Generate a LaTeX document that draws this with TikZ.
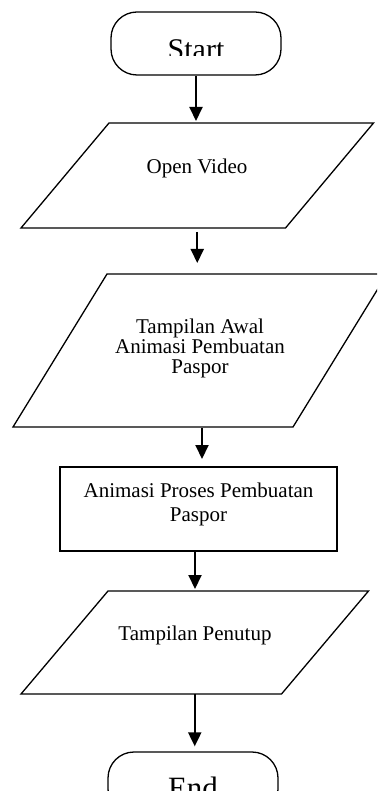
\documentclass[tikz,border=0pt]{standalone}
\usepackage{fontspec}
\setmainfont{Liberation Serif}
\usetikzlibrary{arrows.meta,calc}
\tikzset{
  term/.style={draw, line width=1.3pt, rounded corners=26pt, minimum width=170pt, minimum height=63pt, inner sep=0pt},
  ghost/.style={inner sep=0pt, outer sep=0pt},
  boxed/.style={draw, line width=1.3pt, inner sep=0pt, outer sep=0pt},
  flowtext/.style={font=\fontsize{21}{20}\selectfont, align=center, inner sep=0pt},
  outline/.style={line width=1.3pt, line join=miter},
  flow/.style={line width=2pt, -{Triangle[width=13pt,length=14pt]}},
}
\begin{document}
\begin{tikzpicture}[x=1pt,y=-1pt]
\useasboundingbox (0,0) rectangle (377,791);
\clip (0,0) rectangle (377,791);
% Start
\node[term] (start) at (196,43.5) {};
\begin{scope}
  \clip (100,10) rectangle (290,56);
  \node[font=\fontsize{30}{30}\selectfont, anchor=base, inner sep=0pt] (starttext) at (196,60) {Start};
\end{scope}
% Open Video
\node[ghost, minimum width=264.5pt, minimum height=105pt] (p1) at (197.25,175.5) {};
\draw[outline] ([xshift=44pt]p1.north west) -- ([xshift=44pt]p1.north east) -- ([xshift=-44pt]p1.south east) -- ([xshift=-44pt]p1.south west) -- cycle;
\node[flowtext] (t1) at (197,168) {Open Video};
% Tampilan Awal
\node[ghost, minimum width=280pt, minimum height=153pt] (p2) at (200,350.5) {};
\draw[outline] ([xshift=47pt]p2.north west) -- ([xshift=47pt]p2.north east) -- ([xshift=-47pt]p2.south east) -- ([xshift=-47pt]p2.south west) -- cycle;
\node[flowtext] (t2) at (200,348) {Tampilan Awal\\Animasi Pembuatan\\Paspor};
% Proses
\node[boxed, minimum width=277pt, minimum height=84pt] (r) at (198.5,509) {};
\node[flowtext, font=\fontsize{21}{24}\selectfont] (t3) at (198.5,504) {Animasi Proses Pembuatan\\Paspor};
% Tampilan Penutup
\node[ghost, minimum width=260.5pt, minimum height=103pt] (p3) at (194.75,642.5) {};
\draw[outline] ([xshift=43.5pt]p3.north west) -- ([xshift=43.5pt]p3.north east) -- ([xshift=-43.5pt]p3.south east) -- ([xshift=-43.5pt]p3.south west) -- cycle;
\node[flowtext] (t4) at (195,635) {Tampilan Penutup};
% End
\node[term] (end) at (193,783.5) {};
\node[font=\fontsize{31}{31}\selectfont, anchor=base, inner sep=0pt] (endtext) at (193,798.5) {End};
% connectors
\draw[flow, shorten >=2pt] (start.south) -- (start.south |- p1.north);
\draw[flow, shorten <=4pt, shorten >=11pt] (p1.south) -- (p1.south |- p2.north);
\draw[flow, shorten <=1pt, shorten >=8pt] ([xshift=2pt]p2.south) -- ([xshift=2pt]p2.south |- r.north);
\draw[flow, shorten >=2pt] ([xshift=-3.5pt]r.south) -- ([xshift=-3.5pt]r.south |- p3.north);
\draw[flow, shorten >=5pt] (p3.south) -- (p3.south |- end.north);
\end{tikzpicture}
\end{document}
